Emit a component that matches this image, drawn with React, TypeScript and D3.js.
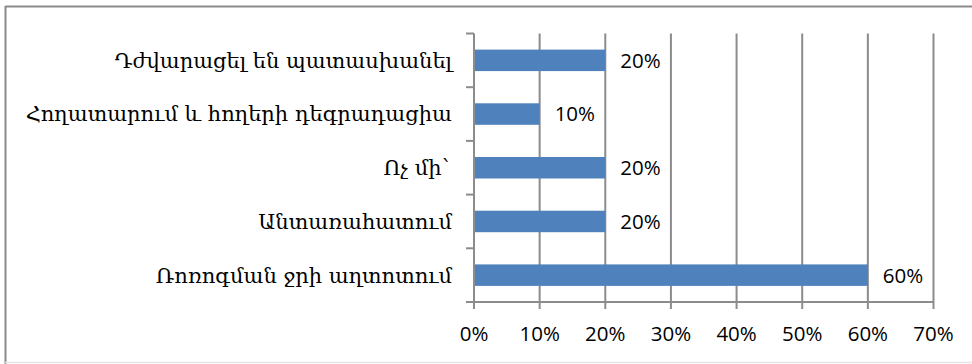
import React from "react";
import * as d3 from "d3";

const categories = [
  "Դժվարացել են պատասխանել",
  "Հողատարում և հողերի դեգրադացիա",
  "Ոչ մի`",
  "Անտառահատում",
  "Ռոռոգման ջրի աղտոտում",
];
const values = [0.2, 0.1, 0.2, 0.2, 0.6];
const xTicks = [0, 0.1, 0.2, 0.3, 0.4, 0.5, 0.6, 0.7];

const W = 972;
const H = 364;
const left = 474;
const right = 933.5;
const top = 33.5;
const bottom = 302;
const grid = "#8c8c8c";
const numFont = "'Open Sans', 'Liberation Sans', sans-serif";

export default function App() {
  const x = d3.scaleLinear().domain([0, 0.7]).range([left, right]);
  const y = d3.scaleBand<string>().domain(categories).range([top, bottom]).paddingInner(0.6).paddingOuter(0.3);
  const band = d3.scaleBand<string>().domain(categories).range([top, bottom]);
  const fmt = d3.format(".0%");
  const boundaries = d3.range(categories.length + 1).map((i) => top + i * band.step());

  return (
    <svg width={W} height={H} style={{ position: "absolute", left: 0, top: 0, background: "#fff" }}>
      <rect x={0} y={0} width={W} height={H} fill="#fff" />
      {/* frame */}
      <line x1={5.5} y1={6.5} x2={W} y2={6.5} stroke="#8a8a8a" strokeWidth={2} />
      <line x1={5.5} y1={6} x2={5.5} y2={H} stroke="#8a8a8a" strokeWidth={2} />
      <line x1={5} y1={362.5} x2={W} y2={362.5} stroke="#e6e6e6" strokeWidth={1.5} />
      {/* gridlines */}
      {xTicks.slice(1).map((t) => (
        <line key={t} x1={x(t)} x2={x(t)} y1={top} y2={bottom} stroke={grid} strokeWidth={2} />
      ))}
      {/* bars */}
      {categories.map((c, i) => (
        <rect key={c} x={x(0)} y={y(c)} width={x(values[i]) - x(0)} height={y.bandwidth()} fill="#4F81BD" />
      ))}
      {/* y axis */}
      <line x1={left} x2={left} y1={top} y2={bottom} stroke={grid} strokeWidth={2} />
      {boundaries.map((b, i) => (
        <line key={i} x1={left - 8} x2={left} y1={b} y2={b} stroke={grid} strokeWidth={2} />
      ))}
      {/* x axis */}
      <line x1={left} x2={right} y1={bottom} y2={bottom} stroke={grid} strokeWidth={2} />
      {xTicks.map((t) => (
        <line key={t} x1={x(t)} x2={x(t)} y1={bottom} y2={bottom + 7} stroke={grid} strokeWidth={2} />
      ))}
      {xTicks.map((t) => (
        <text key={t} x={x(t)} y={341} textAnchor="middle" fontFamily={numFont} fontSize={20.5} fill="#000">
          {fmt(t)}
        </text>
      ))}
      {/* category labels */}
      {categories.map((c) => (
        <text key={c} x={452} y={(band(c) ?? 0) + band.step() / 2} dy="0.35em" textAnchor="end" fontFamily="'DejaVu Serif', serif" fontSize={21} fill="#000">
          {c}
        </text>
      ))}
      {/* value labels */}
      {categories.map((c, i) => (
        <text key={c} x={x(values[i]) + 15} y={(y(c) ?? 0) + y.bandwidth() / 2} dy="0.36em" fontFamily={numFont} fontSize={20.5} fill="#000">
          {fmt(values[i])}
        </text>
      ))}
    </svg>
  );
}
